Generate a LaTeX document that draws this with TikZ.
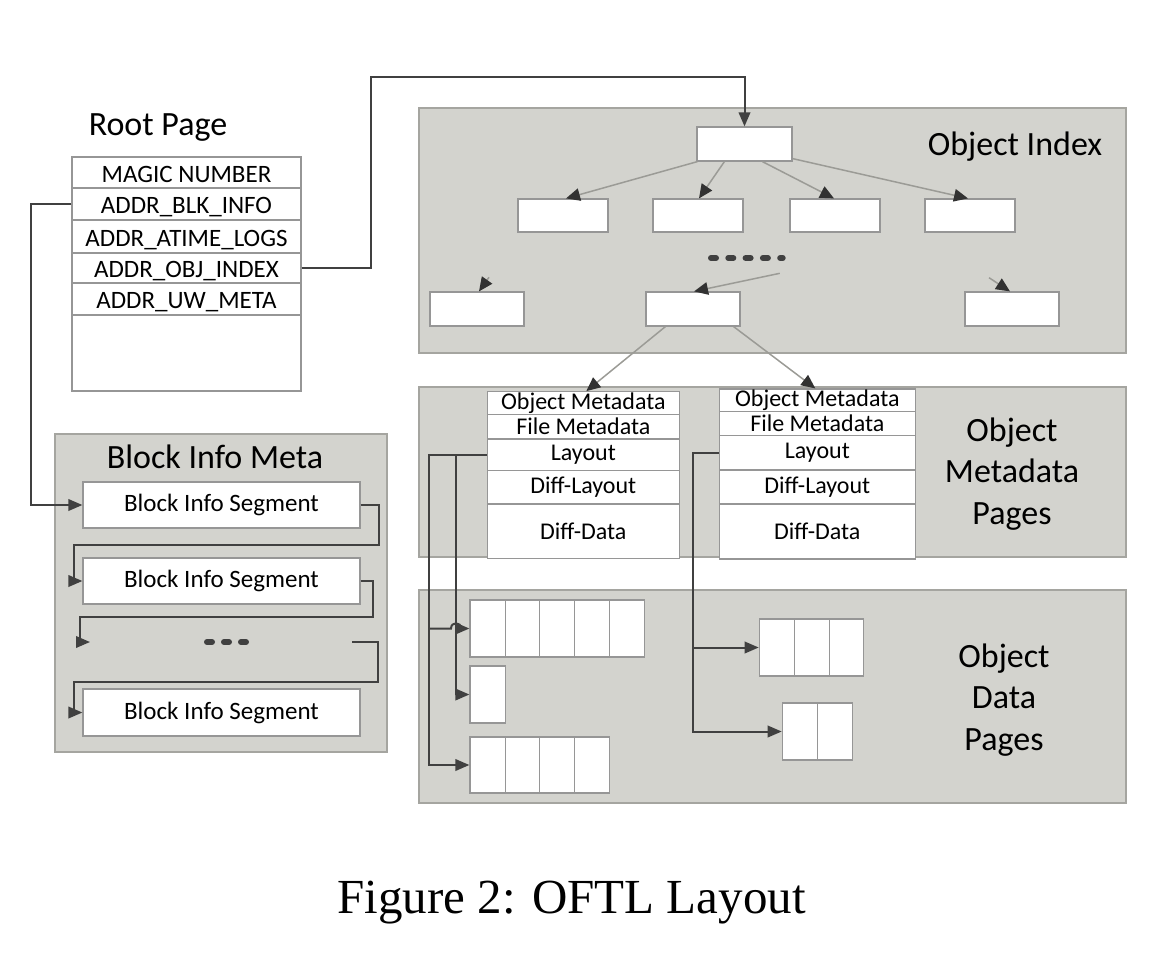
\documentclass[tikz,border=0pt]{standalone}
\usepackage{fontspec}
\setmainfont{Carlito}
\newfontfamily\capfont{Liberation Serif}
\usetikzlibrary{arrows.meta,calc}
\definecolor{panelfill}{RGB}{211,211,206}
\definecolor{paneledge}{RGB}{165,165,160}
\definecolor{boxedge}{RGB}{150,150,150}
\definecolor{darkline}{RGB}{64,64,64}
\definecolor{treeline}{RGB}{155,155,150}
\definecolor{tipdark}{RGB}{50,50,50}
\newcommand{\mybox}[7][]{\node[#1,minimum width={(#5)-(#3)},minimum height={(#6)-(#4)}] (#2) at ({((#3)+(#5))/2},{((#4)+(#6))/2}) {#7};}
\begin{document}
\begin{tikzpicture}[x=1pt,y=-1pt,
 panel/.style={fill=panelfill,draw=paneledge,line width=1.2pt,inner sep=0pt},
 wbox/.style={fill=white,draw=boxedge,line width=1.2pt,inner sep=0pt},
 conn/.style={draw=darkline,line width=2pt,-{Triangle[length=14pt,width=11.5pt,color=darkline]}},
 tree/.style={draw=treeline,line width=1.5pt,-{Triangle[length=14pt,width=12.5pt,color=tipdark]}},
 big/.style={font=\fontsize{34}{41.5}\selectfont},
 mid/.style={font=\fontsize{25}{30}\selectfont},
 sml/.style={font=\fontsize{24}{28}\selectfont},
 caps/.style={text height=19pt,text depth=0pt},
 dots/.style={draw=darkline,line width=6pt,line cap=round},
]
\useasboundingbox (0,0) rectangle (1166,970);

% panels
\mybox[panel]{oip}{419}{108}{1126}{353}{}
\mybox[panel]{mdp}{419}{387}{1126}{557}{}
\mybox[panel]{dtp}{419}{590}{1126}{803}{}
\mybox[panel]{bim}{55}{434}{387}{752}{}

% titles
\node[big,anchor=base] (rptitle) at (158,135) {Root Page};
\node[big,anchor=base] (bimtitle) at (215,468) {Block Info Meta};
\node[big,anchor=base] (oititle) at (1015,155) {Object Index};
\node[big,align=center,inner sep=0pt] (mdtitle) at (1012,474) {Object\\Metadata\\Pages};
\node[big,align=center,inner sep=0pt] (dttitle) at (1004,700) {Object\\Data\\Pages};

% root page table
\mybox[wbox,mid,caps]{r1}{72}{157}{301}{188}{MAGIC NUMBER}
\mybox[wbox,mid,caps]{r2}{72}{188}{301}{220}{ADDR\_BLK\_INFO}
\mybox[wbox,mid,caps]{r3}{72}{220}{301}{253}{ADDR\_ATIME\_LOGS}
\mybox[wbox,mid,caps]{r4}{72}{253}{301}{283}{ADDR\_OBJ\_INDEX}
\mybox[wbox,mid,caps]{r5}{72}{283}{301}{315}{ADDR\_UW\_META}
\mybox[wbox]{r6}{72}{315}{301}{391}{}

% block info segments
\mybox[wbox,mid]{seg1}{83}{482}{360}{528}{Block Info Segment}
\mybox[wbox,mid]{seg2}{83}{558}{360}{604}{Block Info Segment}
\mybox[wbox,mid]{seg3}{83}{689}{360}{736}{Block Info Segment}
\coordinate (dotsin) at (90,642);
\coordinate (dotsout) at (352,642);
\draw[dots,dash pattern=on 5pt off 12pt] (207,642) -- (246,642);

% object index tree
\mybox[wbox]{oi0}{697}{127}{792}{161}{}
\mybox[wbox]{oi1}{518}{199}{608}{232}{}
\mybox[wbox]{oi2}{653}{199}{743}{232}{}
\mybox[wbox]{oi3}{790}{199}{880}{232}{}
\mybox[wbox]{oi4}{925}{199}{1015}{232}{}
\mybox[wbox]{oi5}{430}{292}{524}{326}{}
\mybox[wbox]{oi6}{646}{292}{740}{326}{}
\mybox[wbox]{oi7}{965}{292}{1059}{326}{}
\draw[dots,dash pattern=on 5pt off 12.3pt] (711,258) -- (782.7,258);
\coordinate (f1) at (489,277.3);
\coordinate (f2) at (779.8,273.3);
\coordinate (f3) at (989,277.7);

% metadata boxes
\mybox[wbox,sml]{md1a}{487.3}{391.7}{679.3}{414.3}{Object Metadata}
\mybox[wbox,sml]{md1b}{487.3}{414.3}{679.3}{439}{File Metadata}
\mybox[wbox,sml]{md1c}{487.3}{439}{679.3}{470.7}{Layout}
\mybox[wbox,sml]{md1d}{487.3}{470.7}{679.3}{504}{Diff-Layout}
\mybox[wbox,sml]{md1e}{487.3}{504}{679.3}{558.3}{Diff-Data}
\mybox[wbox,sml]{md2a}{719.3}{389}{915.3}{411.7}{Object Metadata}
\mybox[wbox,sml]{md2b}{719.3}{411.7}{915.3}{435.7}{File Metadata}
\mybox[wbox,sml]{md2c}{719.3}{435.7}{915.3}{470}{Layout}
\mybox[wbox,sml]{md2d}{719.3}{470}{915.3}{504}{Diff-Layout}
\mybox[wbox,sml]{md2e}{719.3}{504}{915.3}{559}{Diff-Data}

% data cells
\mybox[wbox]{dA1}{470}{600}{505.7}{657}{}
\mybox[wbox]{dA2}{505.7}{600}{539.7}{657}{}
\mybox[wbox]{dA3}{539.7}{600}{574.7}{657}{}
\mybox[wbox]{dA4}{574.7}{600}{609.3}{657}{}
\mybox[wbox]{dA5}{609.3}{600}{644.3}{657}{}
\mybox[wbox]{dB1}{470}{666}{505.7}{723}{}
\mybox[wbox]{dC1}{470}{737}{505.7}{793}{}
\mybox[wbox]{dC2}{505.7}{737}{539.7}{793}{}
\mybox[wbox]{dC3}{539.7}{737}{574.7}{793}{}
\mybox[wbox]{dC4}{574.7}{737}{609.3}{793}{}
\mybox[wbox]{dD1}{759.3}{619}{794.3}{676}{}
\mybox[wbox]{dD2}{794.3}{619}{829.3}{676}{}
\mybox[wbox]{dD3}{829.3}{619}{863.7}{676}{}
\mybox[wbox]{dE1}{782.3}{703}{817.3}{760}{}
\mybox[wbox]{dE2}{817.3}{703}{852.3}{760}{}

% root page connectors
\draw[conn] (r2.west) -- ++(-40,0) |- (seg1.west);
\coordinate (up) at (371,77);
\draw[conn] (r4.east) -| (up) -| (oi0.north);

% block info chain
\draw[conn] (seg1.east) -- ++(18,0) -- ++(0,40) -| ([xshift=-8pt]seg2.west) -- (seg2.west);
\draw[conn] (seg2.east) -- ++(12,0) -- ++(0,36) -| ([xshift=-10pt]dotsin) -- (dotsin);
\draw[conn] (dotsout) -- ++(26,0) -- ++(0,40) -| ([xshift=-8pt]seg3.west) -- (seg3.west);

% tree arrows
\draw[tree] ([xshift=1pt]oi0.south west) -- ([xshift=3pt]oi1.north);
\draw[tree] ([xshift=28pt]oi0.south west) -- ([xshift=1pt]oi2.north);
\draw[tree] ([xshift=66pt]oi0.south west) -- ([xshift=-1pt]oi3.north);
\draw[tree] ([yshift=3pt]oi0.south east) -- ([xshift=-2pt]oi4.north);
\draw[tree] (f1) -- ([xshift=2pt]oi5.north);
\draw[tree] (f2) -- ([xshift=1pt]oi6.north);
\draw[tree] (f3) -- ([xshift=-2pt]oi7.north);
\draw[tree] ([xshift=20pt]oi6.south west) -- ([xshift=3pt]md1a.north);
\draw[tree] ([xshift=-7pt]oi6.south east) -- ([xshift=-2pt]md2a.north);

% layout connectors
\coordinate (ja) at (429,0);
\coordinate (jb) at (456,0);
\coordinate (jc) at (693,0);
\draw[conn] (md1c.west) -| (dC1.west -| ja) -- (dC1.west);
\draw[conn] (md1c.west -| jb) |- (dB1.west);
\draw[conn] (dA1.west -| ja) -- ([xshift=-5pt]dA1.west -| jb) .. controls ([xshift=-5pt,yshift=7pt]dA1.west -| jb) and ([xshift=5pt,yshift=7pt]dA1.west -| jb) .. ([xshift=5pt]dA1.west -| jb) -- (dA1.west);
\draw[conn] (md2c.west) -| (dE1.west -| jc) -- (dE1.west);
\draw[conn] (dD1.west -| jc) -- (dD1.west);

% caption
\node[font=\capfont\fontsize{49}{58}\selectfont,anchor=base] (cap) at (571.7,913) {Figure 2: OFTL Layout};
\end{tikzpicture}
\end{document}
